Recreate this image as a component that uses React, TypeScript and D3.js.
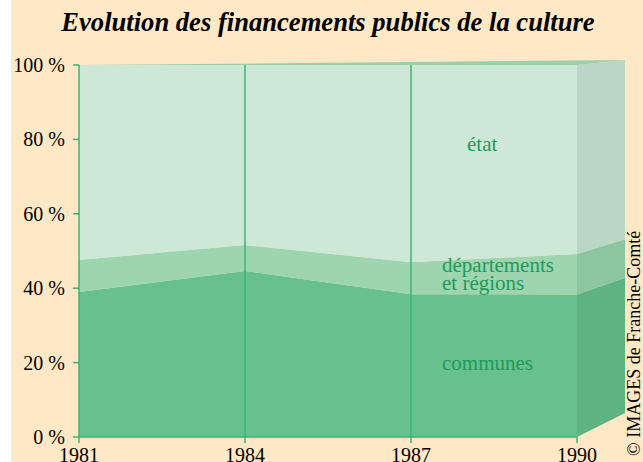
import React from "react";
import * as d3 from "d3";

const years = [1981, 1984, 1987, 1990];
const communes = [39, 44.6, 38.4, 38.3];
const departements = [8.6, 7.0, 8.6, 10.9];
const etat = [52.4, 48.4, 53.0, 50.8];
const yTicks = [0, 20, 40, 60, 80, 100];
const layerNames = ["communes", "departements", "etat"];
const frontColors = ["#67c18d", "#9cd5ae", "#cde8d6"];
const sideColors = ["#5fb383", "#8cc6a0", "#b9d7c7"];

const W = 643;
const H = 462;

export default function App() {
  const x = d3.scaleLinear().domain([1981, 1990]).range([79, 577]);
  const y = d3.scaleLinear().domain([0, 100]).range([437, 65]);
  const yBack = d3.scaleLinear().domain([0, 100]).range([413, 60]);
  const xBack = 625;

  const rows = years.map((yr, i) => ({
    year: yr,
    communes: communes[i],
    departements: departements[i],
    etat: etat[i],
  }));
  const stack = d3.stack<any>().keys(layerNames);
  const series = stack(rows);
  const area = d3
    .area<any>()
    .x((d) => x(d.data.year))
    .y0((d) => y(d[0]))
    .y1((d) => y(Math.min(100, d[1])));

  const last = years.length - 1;
  const x1990 = x(years[last]);

  return (
    <div style={{ position: "absolute", left: 0, top: 0 }}>
      <svg width={W} height={H} style={{ display: "block" }}>
        <rect x={0} y={0} width={W} height={H} fill="#ffffff" />
        <rect x={11} y={0} width={W - 11} height={H} fill="#fee8c6" />
        <text
          x={328}
          y={31}
          textAnchor="middle"
          fontFamily="'Liberation Serif', serif"
          fontWeight="bold"
          fontStyle="italic"
          fontSize={26.6}
          fill="#000"
        >
          Evolution des financements publics de la culture
        </text>

        {/* top face */}
        <polygon
          points={`${x(1981)},${y(100)} ${x1990},${y(100)} ${xBack},${yBack(100)}`}
          fill="#9ccfac"
        />
        {/* side faces */}
        {series.map((s, i) => {
          const d = s[last];
          const lo = d[0];
          const hi = Math.min(100, d[1]);
          return (
            <polygon
              key={"side" + i}
              points={`${x1990},${y(lo)} ${x1990},${y(hi)} ${xBack},${yBack(hi)} ${xBack},${yBack(lo)}`}
              fill={sideColors[i]}
            />
          );
        })}
        {/* front areas */}
        {series.map((s, i) => (
          <path key={"a" + i} d={area(s) || ""} fill={frontColors[i]} />
        ))}

        {/* vertical year lines */}
        {years.slice(0, last).map((yr) => (
          <line
            key={"v" + yr}
            x1={x(yr)}
            x2={x(yr)}
            y1={y(100)}
            y2={y(0) + 6}
            stroke="#3db56f"
            strokeWidth={1.5}
          />
        ))}
        <line x1={x1990} x2={x1990} y1={y(0)} y2={y(0) + 6} stroke="#3db56f" strokeWidth={1.5} />
        <line x1={x(1981)} x2={x1990} y1={y(0)} y2={y(0)} stroke="#3db56f" strokeWidth={1.5} />

        {/* y ticks */}
        {yTicks.map((t) => (
          <g key={"yt" + t}>
            <line x1={73} x2={x(1981)} y1={y(t)} y2={y(t)} stroke="#3db56f" strokeWidth={1.5} />
            <text
              x={65}
              y={y(t)}
              dy="0.35em"
              textAnchor="end"
              fontFamily="'Liberation Serif', serif"
              fontSize={20}
              fill="#000"
            >
              {t} %
            </text>
          </g>
        ))}
        {/* x labels */}
        {years.map((yr) => (
          <text
            key={"xl" + yr}
            x={x(yr)}
            y={462}
            textAnchor="middle"
            fontFamily="'Liberation Serif', serif"
            fontSize={20}
            fill="#000"
          >
            {yr}
          </text>
        ))}

        {/* series labels */}
        <g fontFamily="'Liberation Serif', serif" fontSize={21} fill="#1f9a5b">
          <text x={467} y={151}>état</text>
          <text x={442} y={272}>départements</text>
          <text x={442} y={290}>et régions</text>
          <text x={442} y={370}>communes</text>
        </g>

        <text
          transform="translate(640,456) rotate(-90)"
          fontFamily="'Liberation Serif', serif"
          fontSize={18}
          fill="#000"
        >
          © IMAGES de Franche-Comté
        </text>
      </svg>
    </div>
  );
}
